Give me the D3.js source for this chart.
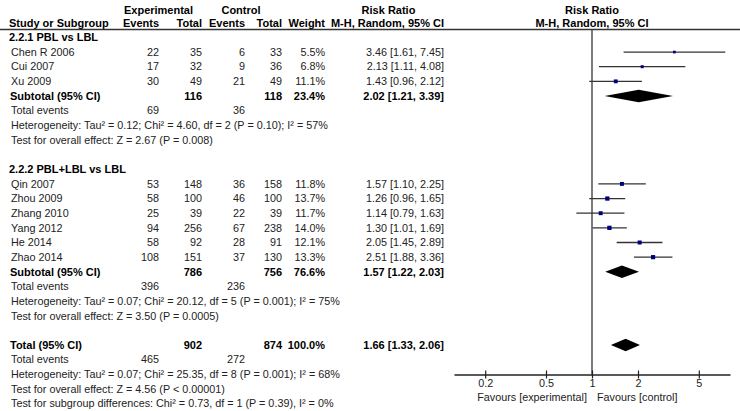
<!DOCTYPE html>
<html>
<head>
<meta charset="utf-8">
<script src="https://cdn.jsdelivr.net/npm/d3@7"></script>
<style>
  body { margin: 0; background: #fff; }
  svg text { font-family: "Liberation Sans", Arial, sans-serif; font-size: 10.8px; fill: #222; }
  svg text.b { font-weight: bold; fill: #000; font-size: 11px; }
</style>
</head>
<body>
<svg id="chart" width="740" height="411"></svg>
<script>
// studies
var studies = ["Chen R 2006", "Cui 2007", "Xu 2009",
               "Qin 2007", "Zhou 2009", "Zhang 2010", "Yang 2012", "He 2014", "Zhao 2014"]
var studyGroup = [0, 0, 0, 1, 1, 1, 1, 1, 1]
var expEvents = [22, 17, 30, 53, 58, 25, 94, 58, 108]
var expTotal  = [35, 32, 49, 148, 100, 39, 256, 92, 151]
var ctlEvents = [6, 9, 21, 36, 46, 22, 67, 28, 37]
var ctlTotal  = [33, 36, 49, 158, 100, 39, 238, 91, 130]
var weights   = [5.5, 6.8, 11.1, 11.8, 13.7, 11.7, 14.0, 12.1, 13.3]
var rr        = [3.46, 2.13, 1.43, 1.57, 1.26, 1.14, 1.30, 2.05, 2.51]
var rrLo      = [1.61, 1.11, 0.96, 1.10, 0.96, 0.79, 1.01, 1.45, 1.88]
var rrHi      = [7.45, 4.08, 2.12, 2.25, 1.65, 1.63, 1.69, 2.89, 3.36]

// subgroups
var groupNames = ["2.2.1 PBL vs LBL", "2.2.2 PBL+LBL vs LBL"]
var groupExpTotal = [116, 786]
var groupCtlTotal = [118, 756]
var groupWeight = [23.4, 76.6]
var groupExpEvents = [69, 396]
var groupCtlEvents = [36, 236]
var groupRR = [2.02, 1.57]
var groupLo = [1.21, 1.22]
var groupHi = [3.39, 2.03]
var groupHet = ["Heterogeneity: Tau\u00b2 = 0.12; Chi\u00b2 = 4.60, df = 2 (P = 0.10); I\u00b2 = 57%",
                "Heterogeneity: Tau\u00b2 = 0.07; Chi\u00b2 = 20.12, df = 5 (P = 0.001); I\u00b2 = 75%"]
var groupTest = ["Test for overall effect: Z = 2.67 (P = 0.008)",
                 "Test for overall effect: Z = 3.50 (P = 0.0005)"]

// overall
var totalExpTotal = 902, totalCtlTotal = 874, totalWeight = 100.0
var totalExpEvents = 465, totalCtlEvents = 272
var totalRR = 1.66, totalLo = 1.33, totalHi = 2.06
var totalNotes = ["Heterogeneity: Tau\u00b2 = 0.07; Chi\u00b2 = 25.35, df = 8 (P = 0.001); I\u00b2 = 68%",
                  "Test for overall effect: Z = 4.56 (P < 0.00001)",
                  "Test for subgroup differences: Chi\u00b2 = 0.73, df = 1 (P = 0.39), I\u00b2 = 0%"]

var axisTicks = [0.2, 0.5, 1, 2, 5]
var favours = ["Favours [experimental]", "Favours [control]"]

var svg = d3.select("#chart")

// build row list
var rows = []
groupNames.forEach(function(g, gi) {
    rows.push({type: "title", label: g})
    studies.forEach(function(s, i) {
        if (studyGroup[i] !== gi) return
        rows.push({type: "study", label: s, ee: expEvents[i], et: expTotal[i], ce: ctlEvents[i], ct: ctlTotal[i],
                   w: weights[i], rr: rr[i], lo: rrLo[i], hi: rrHi[i]})
    })
    rows.push({type: "sub", label: "Subtotal (95% CI)", et: groupExpTotal[gi], ct: groupCtlTotal[gi],
               w: groupWeight[gi], rr: groupRR[gi], lo: groupLo[gi], hi: groupHi[gi]})
    rows.push({type: "events", label: "Total events", ee: groupExpEvents[gi], ce: groupCtlEvents[gi]})
    rows.push({type: "note", label: groupHet[gi]})
    rows.push({type: "note", label: groupTest[gi]})
    rows.push({type: "blank"})
})
rows.push({type: "sub", label: "Total (95% CI)", et: totalExpTotal, ct: totalCtlTotal,
           w: totalWeight, rr: totalRR, lo: totalLo, hi: totalHi})
rows.push({type: "events", label: "Total events", ee: totalExpEvents, ce: totalCtlEvents})
totalNotes.forEach(function(n) { rows.push({type: "note", label: n}) })

var yRow = d3.scaleLinear().domain([0, 1]).range([37.4, 52.05])
var x = d3.scaleLog().domain([0.125, 8]).range([454, 730])

var col = {ee: 159, et: 202, ce: 245, ct: 282, w: 325, rr: 444}
function fmt2(v) { return v.toFixed(2) }
function ciText(r) { return fmt2(r.rr) + " [" + fmt2(r.lo) + ", " + fmt2(r.hi) + "]" }

// header
var hdr = svg.append("g")
hdr.append("text").attr("class", "b").attr("x", 158.5).attr("y", 14).attr("text-anchor", "middle").text("Experimental")
hdr.append("text").attr("class", "b").attr("x", 241).attr("y", 14).attr("text-anchor", "middle").text("Control")
hdr.append("text").attr("class", "b").attr("x", 388.5).attr("y", 14).attr("text-anchor", "middle").text("Risk Ratio")
hdr.append("text").attr("class", "b").attr("x", x(1)).attr("y", 14).attr("text-anchor", "middle").text("Risk Ratio")
hdr.append("text").attr("class", "b").attr("x", 9).attr("y", 27).text("Study or Subgroup")
var hdr2 = [["Events", col.ee], ["Total", col.et], ["Events", col.ce], ["Total", col.ct], ["Weight", col.w], ["M-H, Random, 95% CI", col.rr]]
hdr2.forEach(function(h) {
    hdr.append("text").attr("class", "b").attr("x", h[1]).attr("y", 27).attr("text-anchor", "end").text(h[0])
})
hdr.append("text").attr("class", "b").attr("x", x(1)).attr("y", 27).attr("text-anchor", "middle").text("M-H, Random, 95% CI")
svg.append("line").attr("x1", 0).attr("x2", 740).attr("y1", 29.5).attr("y2", 29.5)
   .attr("stroke", "#333").attr("stroke-width", 1.5)

// table rows
var tbl = svg.append("g")
rows.forEach(function(r, i) {
    var y = yRow(i)
    function put(txt, xx, anchor, bold) {
        tbl.append("text").attr("class", bold ? "b" : null).attr("x", xx).attr("y", y).attr("dy", "0.35em")
           .attr("text-anchor", anchor).text(txt)
    }
    if (r.type === "title") put(r.label, 9, "start", true)
    if (r.type === "study") {
        put(r.label, 11, "start")
        put(r.ee, col.ee, "end"); put(r.et, col.et, "end")
        put(r.ce, col.ce, "end"); put(r.ct, col.ct, "end")
        put(r.w.toFixed(1) + "%", col.w, "end")
        put(ciText(r), col.rr, "end")
    }
    if (r.type === "sub") {
        put(r.label, 10, "start", true)
        put(r.et, col.et, "end", true); put(r.ct, col.ct, "end", true)
        put(r.w.toFixed(1) + "%", col.w, "end", true)
        put(ciText(r), col.rr, "end", true)
    }
    if (r.type === "events") {
        put(r.label, 11, "start")
        put(r.ee, col.ee, "end"); put(r.ce, col.ce, "end")
    }
    if (r.type === "note") put(r.label, 11, "start")
})

// forest plot
var axisY = 374.5
var plot = svg.append("g")
plot.append("line").attr("x1", x(1)).attr("x2", x(1)).attr("y1", 29.5).attr("y2", axisY)
    .attr("stroke", "#444").attr("stroke-width", 1.4)

rows.forEach(function(r, i) {
    var y = yRow(i)
    if (r.type === "study") {
        plot.append("line").attr("x1", x(r.lo)).attr("x2", x(r.hi)).attr("y1", y).attr("y2", y)
            .attr("stroke", "#333").attr("stroke-width", 1.3)
        var s = Math.sqrt(r.w) * 1.15
        plot.append("rect").attr("x", x(r.rr) - s / 2).attr("y", y - s / 2).attr("width", s).attr("height", s)
            .attr("fill", "#00007a")
    }
    if (r.type === "sub") {
        var h = 6.2
        var pts = [[x(r.lo), y], [x(r.rr), y - h], [x(r.hi), y], [x(r.rr), y + h]]
        plot.append("path").attr("d", "M" + pts.join("L") + "Z").attr("fill", "#000")
    }
})

var ax = svg.append("g").attr("transform", "translate(0," + axisY + ")")
    .call(d3.axisBottom(x).tickValues(axisTicks).tickFormat(d3.format("")).tickSize(4).tickSizeOuter(0))
ax.select(".domain").attr("stroke", "#222").attr("stroke-width", 1.3)
ax.selectAll(".tick line").attr("y1", -4).attr("y2", 4).attr("stroke", "#222").attr("stroke-width", 1.2)
ax.selectAll(".tick text").attr("y", 5).attr("font-family", null).attr("font-size", null).attr("fill", "#222")

svg.append("text").attr("x", x(1) - 5).attr("y", axisY + 26.5).attr("text-anchor", "end").text(favours[0])
svg.append("text").attr("x", x(1) + 5).attr("y", axisY + 26.5).attr("text-anchor", "start").text(favours[1])
</script>
</body>
</html>
